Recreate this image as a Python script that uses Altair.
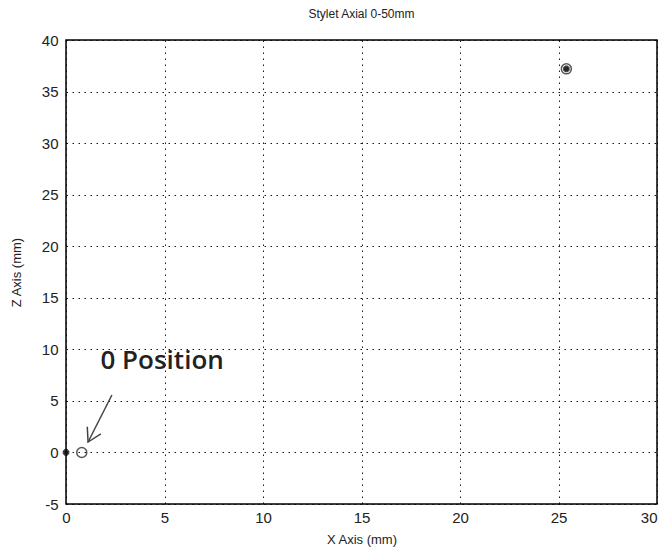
import altair as alt
import pandas as pd

# Data points
circle_x = [0.8, 25.4]
circle_z = [0.0, 37.2]
star_x = [0.0, 25.4]
star_z = [0.0, 37.2]

# Annotation (arrow and label) in data units
arrow_x = [2.33, 1.12]
arrow_z = [5.57, 1.01]
head_x = [1.77, 1.12, 1.08]
head_z = [1.80, 1.01, 2.50]
label_text = ["0 Position"]
label_x = [1.75]
label_z = [8.9]

x_domain = [0, 30]
y_domain = [-5, 40]
x_ticks = [0, 5, 10, 15, 20, 25, 30]
y_ticks = [-5, 0, 5, 10, 15, 20, 25, 30, 35, 40]

x_scale = alt.Scale(domain=x_domain, nice=False, zero=False)
y_scale = alt.Scale(domain=y_domain, nice=False, zero=False)

circ_df = pd.DataFrame({"x": circle_x, "z": circle_z})
star_df = pd.DataFrame({"x": star_x, "z": star_z})
arrow_df = pd.DataFrame({"x": arrow_x, "z": arrow_z, "o": [0, 1]})
head_df = pd.DataFrame({"x": head_x, "z": head_z, "o": [0, 1, 2]})
label_df = pd.DataFrame({"x": label_x, "z": label_z, "t": label_text})
frame_df = pd.DataFrame({"x": [x_domain[0]], "x2": [x_domain[1]],
                         "z": [y_domain[0]], "z2": [y_domain[1]]})

xenc = alt.X("x:Q", scale=x_scale, title="X Axis (mm)",
             axis=alt.Axis(values=x_ticks, grid=True, gridDash=[1.5, 4.5],
                           gridColor="black", gridOpacity=0.9, ticks=False,
                           labelFontSize=15, labelFont="Liberation Sans",
                           labelPadding=6, labelColor="#222",
                           labelAlign={"condition": {"test": "datum.value == 30", "value": "right"},
                                       "value": "center"},
                           titleFontSize=13, titleFont="Liberation Sans",
                           titleFontWeight="normal", titlePadding=8,
                           titleColor="#222", domain=False, labelFlush=False))
yenc = alt.Y("z:Q", scale=y_scale, title="Z Axis (mm)",
             axis=alt.Axis(values=y_ticks, grid=True, gridDash=[1.5, 4.5],
                           gridColor="black", gridOpacity=0.9, ticks=False,
                           labelFontSize=15, labelFont="Liberation Sans",
                           labelPadding=8, labelColor="#222",
                           labelExpr="'' + datum.value",
                           titleFontSize=13, titleFont="Liberation Sans",
                           titleFontWeight="normal", titlePadding=18,
                           titleColor="#222", domain=False, labelFlush=False))

frame = alt.Chart(frame_df).mark_rect(fill=None, stroke="black", strokeWidth=1.5).encode(
    x=xenc, x2="x2:Q", y=yenc, y2="z2:Q")
circles = alt.Chart(circ_df).mark_point(shape="circle", filled=False, color="#111",
                                        size=100, strokeWidth=1.5).encode(x="x:Q", y="z:Q")
stars = alt.Chart(star_df).mark_point(shape="cross", filled=True, color="#111",
                                      size=45, angle=45).encode(x="x:Q", y="z:Q")
stars2 = alt.Chart(star_df).mark_point(shape="cross", filled=True, color="#111",
                                       size=45).encode(x="x:Q", y="z:Q")
arrow = alt.Chart(arrow_df).mark_line(color="#444", strokeWidth=1.5).encode(
    x="x:Q", y="z:Q", order="o:Q")
head = alt.Chart(head_df).mark_line(color="#444", strokeWidth=1.5).encode(
    x="x:Q", y="z:Q", order="o:Q")
label = alt.Chart(label_df).mark_text(align="left", baseline="middle", fontSize=26,
                                      font="Open Sans", fontWeight=600,
                                      color="#222").encode(x="x:Q", y="z:Q", text="t:N")

chart = alt.layer(frame, circles, stars, stars2, arrow, head, label).properties(
    width=591, height=464,
    title=alt.TitleParams("Stylet Axial 0-50mm", fontSize=12, font="Liberation Sans",
                          fontWeight="normal", color="#222", offset=12),
    autosize=alt.AutoSizeParams(type="none"),
    padding={"left": 58, "top": 32, "right": 3, "bottom": 46},
).configure_view(stroke=None).configure(background="white")

chart.save("out.html", embed_options={"renderer": "svg", "actions": False})
